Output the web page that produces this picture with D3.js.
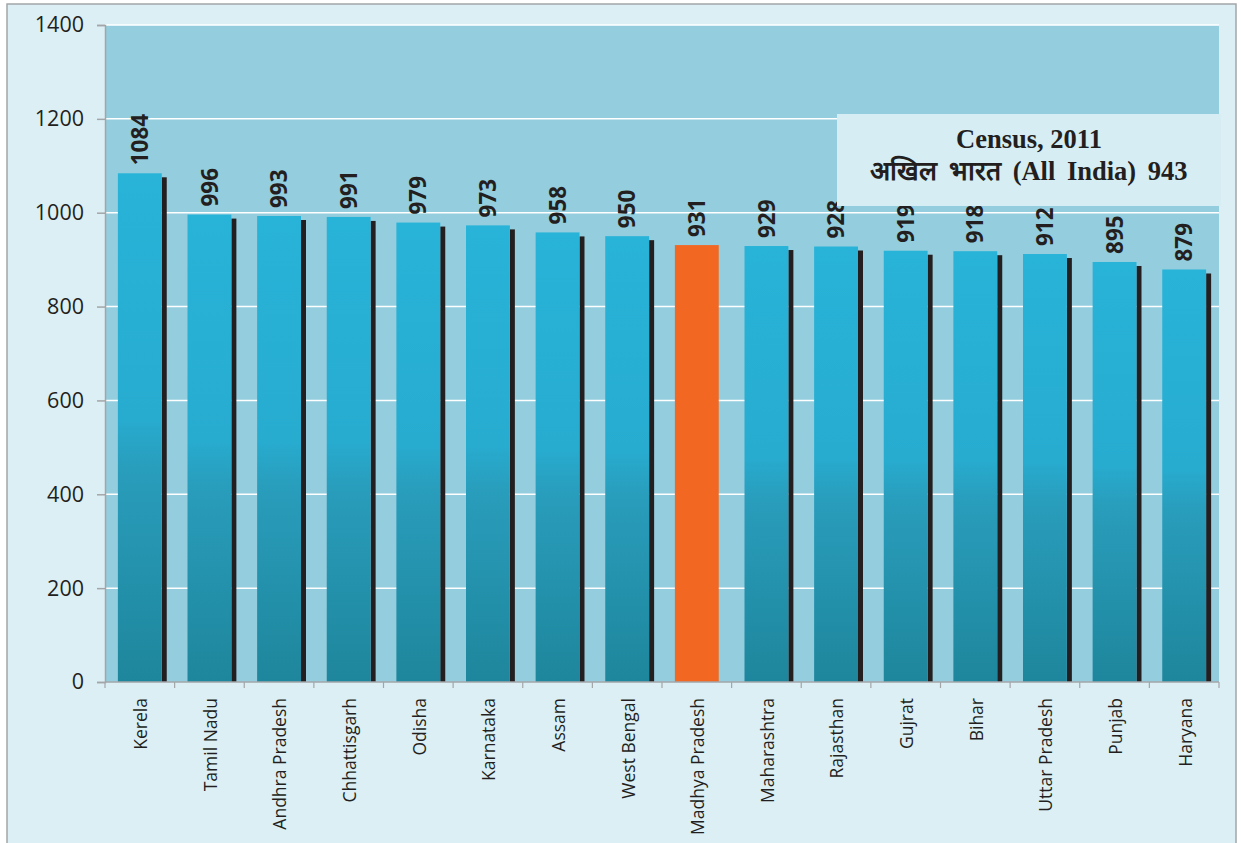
<!DOCTYPE html>
<html>
<head>
<meta charset="utf-8">
<script src="https://cdnjs.cloudflare.com/ajax/libs/d3/7.8.5/d3.min.js"></script>
<style>
  body { margin: 0; background: #ffffff; }
  svg { display: block; }
</style>
</head>
<body>
<svg id="chart" width="1241" height="843"></svg>
<script>
const categories = ["Kerela", "Tamil Nadu", "Andhra Pradesh", "Chhattisgarh", "Odisha", "Karnataka", "Assam", "West Bengal", "Madhya Pradesh", "Maharashtra", "Rajasthan", "Gujrat", "Bihar", "Uttar Pradesh", "Punjab", "Haryana"];
const values = [1084, 996, 993, 991, 979, 973, 958, 950, 931, 929, 928, 919, 918, 912, 895, 879];
const highlight = "Madhya Pradesh";
const yTicks = [0, 200, 400, 600, 800, 1000, 1200, 1400];
const boxLines = ["Census, 2011", "अखिल भारत (All India) 943"];

const svg = d3.select("#chart");
const W = 1241, H = 843;
const m = { left: 105, right: 22, top: 25, bottom: 161 };
const pw = W - m.left - m.right, ph = H - m.top - m.bottom;

// outer panel
svg.append("rect").attr("x", 7).attr("y", 4).attr("width", 1229).attr("height", 845)
  .attr("fill", "#dceff5").attr("stroke", "#a3a6a8").attr("stroke-width", 1.5);

const defs = svg.append("defs");
const grad = defs.append("linearGradient").attr("id", "barGrad")
  .attr("x1", 0).attr("y1", 0).attr("x2", 0).attr("y2", 1);
grad.append("stop").attr("offset", "0%").attr("stop-color", "#28b3d8");
grad.append("stop").attr("offset", "48%").attr("stop-color", "#27acd0");
grad.append("stop").attr("offset", "58%").attr("stop-color", "#299dbc");
grad.append("stop").attr("offset", "100%").attr("stop-color", "#1e869c");

const g = svg.append("g").attr("transform", `translate(${m.left},${m.top})`);

const x = d3.scaleBand().domain(categories).range([0, pw]).paddingInner(0.37).paddingOuter(0.185);
const band = d3.scaleBand().domain(categories).range([0, pw]).padding(0);
const y = d3.scaleLinear().domain([0, 1400]).range([ph, 0]);

// plot background
g.append("rect").attr("width", pw).attr("height", ph).attr("fill", "#93cdde");

// gridlines
g.append("g").selectAll("line").data(yTicks.filter(d => d > 0)).join("line")
  .attr("x1", 0).attr("x2", pw).attr("y1", d => y(d)).attr("y2", d => y(d))
  .attr("stroke", "#ffffff").attr("stroke-width", 1.5);

const data = categories.map((c, i) => ({ c, v: values[i] }));

// shadows
g.append("g").selectAll("rect").data(data.filter(d => d.c !== highlight)).join("rect")
  .attr("x", d => x(d.c) + x.bandwidth())
  .attr("y", d => y(d.v) + 4)
  .attr("width", 5)
  .attr("height", d => ph - y(d.v) - 4)
  .attr("fill", "#231f20");

// bars
g.append("g").selectAll("rect").data(data).join("rect")
  .attr("x", d => x(d.c))
  .attr("y", d => y(d.v))
  .attr("width", x.bandwidth())
  .attr("height", d => ph - y(d.v))
  .attr("fill", d => d.c === highlight ? "#f26722" : "url(#barGrad)");

// value labels
g.append("g").selectAll("text").data(data).join("text")
  .attr("transform", d => `translate(${x(d.c) + x.bandwidth() / 2},${y(d.v) - 8}) rotate(-90)`)
  .attr("dy", "0.36em")
  .attr("text-anchor", "start")
  .attr("font-family", "'Open Sans', sans-serif")
  .attr("font-weight", "bold")
  .attr("font-size", 22.5)
  .attr("fill", "#231f20")
  .text(d => d.v);

// y axis
const yAxis = g.append("g").call(d3.axisLeft(y).tickValues(yTicks).tickFormat(d3.format("d")).tickSize(8).tickPadding(13));
yAxis.select(".domain").attr("stroke", "#a3a6a8").attr("stroke-width", 1.5);
yAxis.selectAll(".tick line").attr("stroke", "#a3a6a8").attr("stroke-width", 1.5);
yAxis.selectAll(".tick text").attr("font-family", "'Open Sans', sans-serif")
  .attr("font-size", 21.5).attr("fill", "#231f20");

// x axis
const xg = g.append("g").attr("transform", `translate(0,${ph})`);
xg.append("line").attr("x1", 0).attr("x2", pw).attr("stroke", "#a3a6a8").attr("stroke-width", 1.5);
xg.selectAll("line.tk").data(categories.concat(["__end"])).join("line").attr("class", "tk")
  .attr("x1", (d, i) => i * band.step()).attr("x2", (d, i) => i * band.step())
  .attr("y1", 0).attr("y2", 6).attr("stroke", "#a3a6a8").attr("stroke-width", 1.2);
xg.selectAll("text").data(categories).join("text")
  .attr("transform", d => `translate(${band(d) + band.bandwidth() / 2 + 1},16) rotate(-90)`)
  .attr("dy", "0.36em")
  .attr("text-anchor", "end")
  .attr("font-family", "'Open Sans', sans-serif")
  .attr("font-size", 17.5)
  .attr("fill", "#231f20")
  .text(d => d);

// annotation box
const box = svg.append("g");
box.append("rect").attr("x", 837).attr("y", 114).attr("width", 384).attr("height", 92)
  .attr("fill", "#d6edf4");
box.selectAll("text").data(boxLines).join("text")
  .attr("x", 1029).attr("y", (d, i) => 148 + i * 32)
  .attr("text-anchor", "middle")
  .attr("font-family", "'Liberation Serif', 'Times New Roman', serif")
  .attr("font-weight", "bold")
  .attr("font-size", 26.5)
  .attr("word-spacing", (d, i) => i === 1 ? 5 : 0)
  .attr("fill", "#231f20")
  .text(d => d);
</script>
</body>
</html>
